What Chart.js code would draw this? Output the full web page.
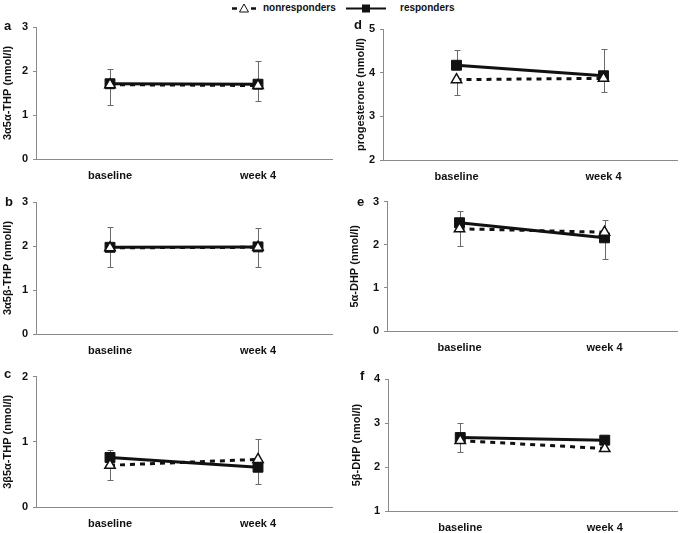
<!DOCTYPE html>
<html>
<head>
<meta charset="utf-8">
<script src="https://cdn.jsdelivr.net/npm/chart.js@4.4.1/dist/chart.umd.min.js"></script>
<style>
    body { margin: 0; background: #fff; font-family: "Liberation Sans", Arial, sans-serif; }
    #fig { position: relative; width: 685px; height: 533px; overflow: hidden; }
    .panel { position: absolute; }
    .letter { position: absolute; font-weight: bold; font-size: 13px; line-height: 13px; color: #111; }
    .legend-text { position: absolute; top: 2px; font-weight: bold; font-size: 10px; line-height: 12px; color: #111; }
    .legend-mark { position: absolute; top: 2px; }
</style>
</head>
<body>
<div id="fig">
    <svg class="legend-mark" style="left:230px" width="30" height="12">
        <line x1="2" y1="6.5" x2="7" y2="6.5" stroke="#111" stroke-width="2.5"/>
        <polygon points="14,2 18.5,10 9.5,10" fill="#fff" stroke="#111" stroke-width="1"/>
        <line x1="21" y1="6.5" x2="26" y2="6.5" stroke="#111" stroke-width="2.5"/>
    </svg>
    <span class="legend-text" style="left:263px">nonresponders</span>
    <svg class="legend-mark" style="left:345px" width="42" height="12">
        <line x1="1" y1="6.5" x2="41" y2="6.5" stroke="#111" stroke-width="2"/>
        <rect x="17" y="2.5" width="8" height="8" fill="#111"/>
    </svg>
    <span class="legend-text" style="left:400px">responders</span>
</div>
<script>
const categories = ['baseline', 'week 4'];
const panelIds = ['a', 'b', 'c', 'd', 'e', 'f'];
const yTitles = [
    '3α5α-THP (nmol/l)', '3α5β-THP (nmol/l)', '3β5α-THP (nmol/l)',
    'progesterone (nmol/l)', '5α-DHP (nmol/l)', '5β-DHP (nmol/l)'
];
const yMin = [0, 0, 0, 2, 0, 1];
const yMax = [3, 3, 2, 5, 3, 4];

// mean values, [baseline, week 4]
const responders = [[1.71, 1.70], [1.97, 1.98], [0.76, 0.61], [4.17, 3.93], [2.51, 2.16], [2.67, 2.61]];
const nonresponders = [[1.69, 1.67], [1.96, 1.97], [0.64, 0.73], [3.84, 3.87], [2.37, 2.29], [2.60, 2.42]];

// where each error bar whisker ends
const respondersErrEnd = [[2.05, 2.22], [2.43, 2.42], [0.88, 0.35], [4.52, 4.55], [2.79, 1.66], [3.00, 2.61]];
const nonrespondersErrEnd = [[1.23, 1.31], [1.52, 1.52], [0.41, 1.05], [3.48, 3.55], [1.97, 2.57], [2.35, 2.42]];

const BOXES = {
    a: { left: 0, top: 0, width: 340, height: 190, axisW: 36, padTop: 27, padRight: 4, xAxisH: 31, titlePad: 1, lx: 4, ly: 19 },
    b: { left: 0, top: 190, width: 340, height: 175, axisW: 36, padTop: 12, padRight: 4, xAxisH: 31, titlePad: 1, lx: 5, ly: 195 },
    c: { left: 0, top: 365, width: 340, height: 168, axisW: 36, padTop: 10, padRight: 4, xAxisH: 26, titlePad: 1, lx: 4, ly: 367 },
    d: { left: 340, top: 0, width: 345, height: 190, axisW: 43, padTop: 29, padRight: 0, xAxisH: 30, titlePad: 14, lx: 354, ly: 18 },
    e: { left: 340, top: 190, width: 345, height: 175, axisW: 47, padTop: 9, padRight: 0, xAxisH: 34, titlePad: 8, lx: 357, ly: 195 },
    f: { left: 340, top: 365, width: 345, height: 168, axisW: 48, padTop: 14, padRight: 0, xAxisH: 22, titlePad: 10, lx: 360, ly: 369 }
};

const AXIS_GRAY = '#8a8a8a';
const INK = '#111';
const FONT = { family: '"Liberation Sans", Arial, sans-serif', size: 11, weight: 'bold' };

const errorBars = {
    id: 'errorBars',
    beforeDatasetsDraw(chart) {
        const ctx = chart.ctx;
        const yScale = chart.scales.y;
        ctx.save();
        ctx.strokeStyle = '#6a6a6a';
        ctx.lineWidth = 1;
        chart.data.datasets.forEach((ds, di) => {
            const meta = chart.getDatasetMeta(di);
            meta.data.forEach((pt, j) => {
                const yEnd = Math.round(yScale.getPixelForValue(ds.errEnd[j])) + 0.5;
                const x = Math.round(pt.x) + 0.5;
                ctx.beginPath();
                ctx.moveTo(x, pt.y);
                ctx.lineTo(x, yEnd);
                ctx.moveTo(x - 3, yEnd);
                ctx.lineTo(x + 3, yEnd);
                ctx.stroke();
            });
        });
        ctx.restore();
    }
};

function makePanel(i) {
    const id = panelIds[i];
    const box = BOXES[id];
    const fig = document.getElementById('fig');

    const wrap = document.createElement('div');
    wrap.className = 'panel';
    wrap.style.left = box.left + 'px';
    wrap.style.top = box.top + 'px';
    const canvas = document.createElement('canvas');
    canvas.width = box.width;
    canvas.height = box.height;
    canvas.style.width = box.width + 'px';
    canvas.style.height = box.height + 'px';
    wrap.appendChild(canvas);
    fig.appendChild(wrap);

    const letter = document.createElement('div');
    letter.className = 'letter';
    letter.textContent = id;
    letter.style.left = box.lx + 'px';
    letter.style.top = box.ly + 'px';
    fig.appendChild(letter);

    new Chart(canvas.getContext('2d'), {
        type: 'line',
        data: {
            labels: categories,
            datasets: [
                {
                    label: 'nonresponders',
                    data: nonresponders[i],
                    errEnd: nonrespondersErrEnd[i],
                    borderColor: INK,
                    borderWidth: 3,
                    borderDash: [5, 5],
                    pointStyle: 'triangle',
                    pointRadius: 6,
                    pointBackgroundColor: '#fff',
                    pointBorderColor: INK,
                    pointBorderWidth: 1.5
                },
                {
                    label: 'responders',
                    data: responders[i],
                    errEnd: respondersErrEnd[i],
                    borderColor: INK,
                    borderWidth: 3,
                    pointStyle: 'rect',
                    pointRadius: 7,
                    pointBackgroundColor: INK,
                    pointBorderColor: INK,
                    pointBorderWidth: 1
                }
            ]
        },
        options: {
            responsive: false,
            animation: false,
            devicePixelRatio: 1,
            layout: { padding: { top: box.padTop, right: box.padRight, left: 0, bottom: 0 } },
            plugins: { legend: { display: false }, tooltip: { enabled: false } },
            scales: {
                x: {
                    type: 'category',
                    offset: true,
                    grid: { display: false, drawTicks: false },
                    border: { display: true, color: AXIS_GRAY, width: 1 },
                    ticks: { padding: 10, color: INK, font: FONT },
                    afterFit: (s) => { s.height = box.xAxisH; }
                },
                y: {
                    min: yMin[i],
                    max: yMax[i],
                    ticks: { stepSize: 1, padding: 5, color: INK, font: FONT },
                    grid: { display: true, drawOnChartArea: false, drawTicks: true, tickLength: 3, color: AXIS_GRAY },
                    border: { display: true, color: AXIS_GRAY, width: 1 },
                    title: {
                        display: true,
                        text: yTitles[i],
                        color: INK,
                        font: FONT,
                        padding: { top: box.titlePad, bottom: 0 }
                    },
                    afterFit: (s) => { s.width = box.axisW; }
                }
            }
        },
        plugins: [errorBars]
    });
}

panelIds.forEach((id, i) => makePanel(i));
</script>
</body>
</html>
